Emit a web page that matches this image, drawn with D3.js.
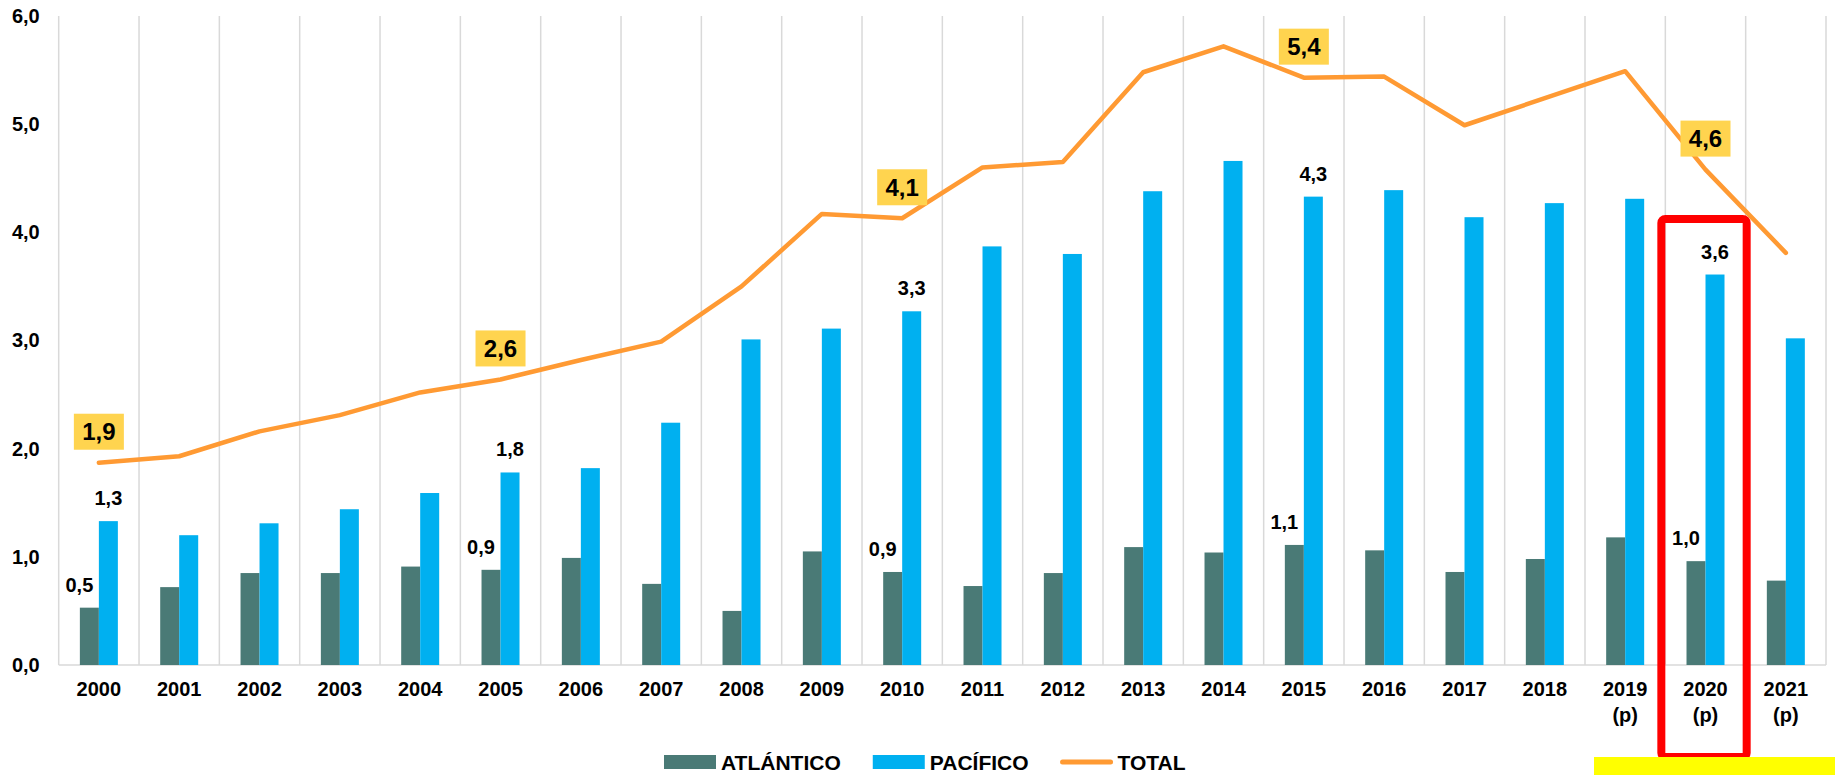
<!DOCTYPE html>
<html>
<head>
<meta charset="utf-8">
<script src="https://cdn.jsdelivr.net/npm/d3@7"></script>
<style>
  body { margin: 0; background: #fff; }
  text { font-family: 'Liberation Sans', Arial, sans-serif; font-weight: bold; fill: #000; }
</style>
</head>
<body>
<div id="chart"></div>
<script>
let years = ['2000', '2001', '2002', '2003', '2004', '2005', '2006', '2007', '2008', '2009', '2010',
  '2011', '2012', '2013', '2014', '2015', '2016', '2017', '2018', '2019 (p)', '2020 (p)', '2021 (p)']

let atlantico = [0.53, 0.72, 0.85, 0.85, 0.91, 0.88, 0.99, 0.75, 0.50, 1.05, 0.86,
  0.73, 0.85, 1.09, 1.04, 1.11, 1.06, 0.86, 0.98, 1.18, 0.96, 0.78]

let pacifico = [1.33, 1.20, 1.31, 1.44, 1.59, 1.78, 1.82, 2.24, 3.01, 3.11, 3.27,
  3.87, 3.80, 4.38, 4.66, 4.33, 4.39, 4.14, 4.27, 4.31, 3.61, 3.02]

let total = [1.87, 1.93, 2.16, 2.31, 2.52, 2.64, 2.82, 2.99, 3.50, 4.17, 4.13,
  4.60, 4.65, 5.48, 5.72, 5.43, 5.44, 4.99, 5.24, 5.49, 4.58, 3.81]

let yTicks = [0, 1, 2, 3, 4, 5, 6]
let labelYears = ['2000', '2005', '2010', '2015', '2020 (p)']
let highlightYear = '2020 (p)'
let seriesNames = ['ATLÁNTICO', 'PACÍFICO', 'TOTAL']

let colors = { 'ATLÁNTICO': '#4a7a76', 'PACÍFICO': '#00b0f0', 'TOTAL': '#ff9a33' }

let width = 1835
let height = 775

let svg = d3
  .select('#chart')
  .append('svg')
  .attr('width', width)
  .attr('height', height)

let x = d3.scaleBand().domain(years).range([58.7, 1826])
let y = d3.scaleLinear().domain([0, 6]).range([665, 16])

let xs = d3
  .scaleBand()
  .domain(seriesNames.slice(0, 2))
  .range([0, x.bandwidth()])
  .paddingOuter(1.114)

let fmt = v => v.toFixed(1).replace('.', ',')
let cx = d => x(d) + x.bandwidth() / 2

// vertical gridlines at each category boundary
let bounds = years.map(d => x(d)).concat([x.range()[1]])
svg
  .selectAll('.grid')
  .data(bounds)
  .enter()
  .append('line')
  .attr('class', 'grid')
  .attr('x1', d => d)
  .attr('x2', d => d)
  .attr('y1', y(6))
  .attr('y2', y(0))
  .attr('stroke', '#d9d9d9')
  .attr('stroke-width', 1.5)

svg
  .append('line')
  .attr('x1', x.range()[0])
  .attr('x2', x.range()[1])
  .attr('y1', y(0))
  .attr('y2', y(0))
  .attr('stroke', '#d9d9d9')
  .attr('stroke-width', 1.5)

// y axis
let yAxis = svg
  .append('g')
  .attr('transform', `translate(${x.range()[0]},0)`)
  .call(d3.axisLeft(y).tickValues(yTicks).tickFormat(fmt).tickSize(0).tickPadding(19))

yAxis.select('.domain').remove()
yAxis.selectAll('text').style('font-size', '20px').attr('fill', '#000')

// x axis
let xAxis = svg
  .append('g')
  .attr('transform', `translate(0,${y(0)})`)
  .call(d3.axisBottom(x).tickSize(0).tickPadding(17))

xAxis.select('.domain').remove()
xAxis.selectAll('text').each(function(d) {
  let t = d3.select(this)
  let parts = d.split(' ')
  t.text(null).style('font-size', '20px').attr('fill', '#000')
  parts.forEach((p, i) => {
    t.append('tspan').attr('x', 0).attr('dy', i === 0 ? '0.71em' : 26).text(p)
  })
})

// bars
let rows = years.map((yr, i) => ({ year: yr, 'ATLÁNTICO': atlantico[i], 'PACÍFICO': pacifico[i], 'TOTAL': total[i] }))

let groups = svg
  .selectAll('.year')
  .data(rows)
  .enter()
  .append('g')
  .attr('class', 'year')
  .attr('transform', d => `translate(${x(d.year)},0)`)

groups
  .selectAll('rect')
  .data(d => xs.domain().map(k => ({ key: k, value: d[k], year: d.year })))
  .enter()
  .append('rect')
  .attr('x', d => xs(d.key))
  .attr('width', xs.bandwidth())
  .attr('y', d => y(d.value))
  .attr('height', d => y(0) - y(d.value))
  .attr('fill', d => colors[d.key])

// total line
let line = d3
  .line()
  .x(d => cx(d.year))
  .y(d => y(d.TOTAL))

svg
  .append('path')
  .datum(rows)
  .attr('d', line)
  .attr('fill', 'none')
  .attr('stroke', colors.TOTAL)
  .attr('stroke-width', 4.5)
  .attr('stroke-linejoin', 'round')
  .attr('stroke-linecap', 'round')

// data labels every 5 years
let labelled = rows.filter(d => labelYears.includes(d.year))

svg
  .selectAll('.lab-atl')
  .data(labelled)
  .enter()
  .append('text')
  .attr('class', 'lab-atl')
  .attr('x', d => x(d.year) + xs('ATLÁNTICO') + xs.bandwidth() / 2 - 10)
  .attr('y', d => y(d['ATLÁNTICO']) - 16)
  .attr('text-anchor', 'middle')
  .style('font-size', '20px')
  .text(d => fmt(d['ATLÁNTICO']))

svg
  .selectAll('.lab-pac')
  .data(labelled)
  .enter()
  .append('text')
  .attr('class', 'lab-pac')
  .attr('x', d => x(d.year) + xs('PACÍFICO') + xs.bandwidth() / 2)
  .attr('y', d => y(d['PACÍFICO']) - 16)
  .attr('text-anchor', 'middle')
  .style('font-size', '20px')
  .text(d => fmt(d['PACÍFICO']))

let totLabels = svg
  .selectAll('.lab-tot')
  .data(labelled)
  .enter()
  .append('g')
  .attr('class', 'lab-tot')
  .attr('transform', d => `translate(${cx(d.year)},${y(d.TOTAL) - 31})`)

totLabels
  .append('rect')
  .attr('x', -25)
  .attr('y', -18)
  .attr('width', 50)
  .attr('height', 36)
  .attr('fill', '#ffd44f')

totLabels
  .append('text')
  .attr('text-anchor', 'middle')
  .attr('dy', '0.36em')
  .style('font-size', '24px')
  .text(d => fmt(d.TOTAL))

// highlight box around 2020
svg
  .append('rect')
  .attr('x', x(highlightYear) - 4)
  .attr('y', 219)
  .attr('width', x.bandwidth() + 5)
  .attr('height', 538)
  .attr('rx', 4)
  .attr('fill', 'none')
  .attr('stroke', '#ff0000')
  .attr('stroke-width', 8)

svg
  .append('rect')
  .attr('x', 1594)
  .attr('y', 757)
  .attr('width', width - 1594)
  .attr('height', height - 757)
  .attr('fill', '#ffff00')

// legend
let legend = svg.append('g').attr('transform', 'translate(664,762)')
let lx = 0
seriesNames.forEach(name => {
  let g = legend.append('g').attr('transform', `translate(${lx},0)`)
  if (name === 'TOTAL') {
    g.append('line')
      .attr('x1', 2)
      .attr('x2', 50)
      .attr('y1', 0)
      .attr('y2', 0)
      .attr('stroke', colors[name])
      .attr('stroke-width', 5)
      .attr('stroke-linecap', 'round')
  } else {
    g.append('rect')
      .attr('x', 0)
      .attr('y', -7)
      .attr('width', 52)
      .attr('height', 14)
      .attr('fill', colors[name])
  }
  let t = g
    .append('text')
    .attr('x', 57)
    .attr('dy', '0.36em')
    .style('font-size', '21px')
    .text(name)
  lx += 57 + t.node().getComputedTextLength() + 32
})
</script>
</body>
</html>
